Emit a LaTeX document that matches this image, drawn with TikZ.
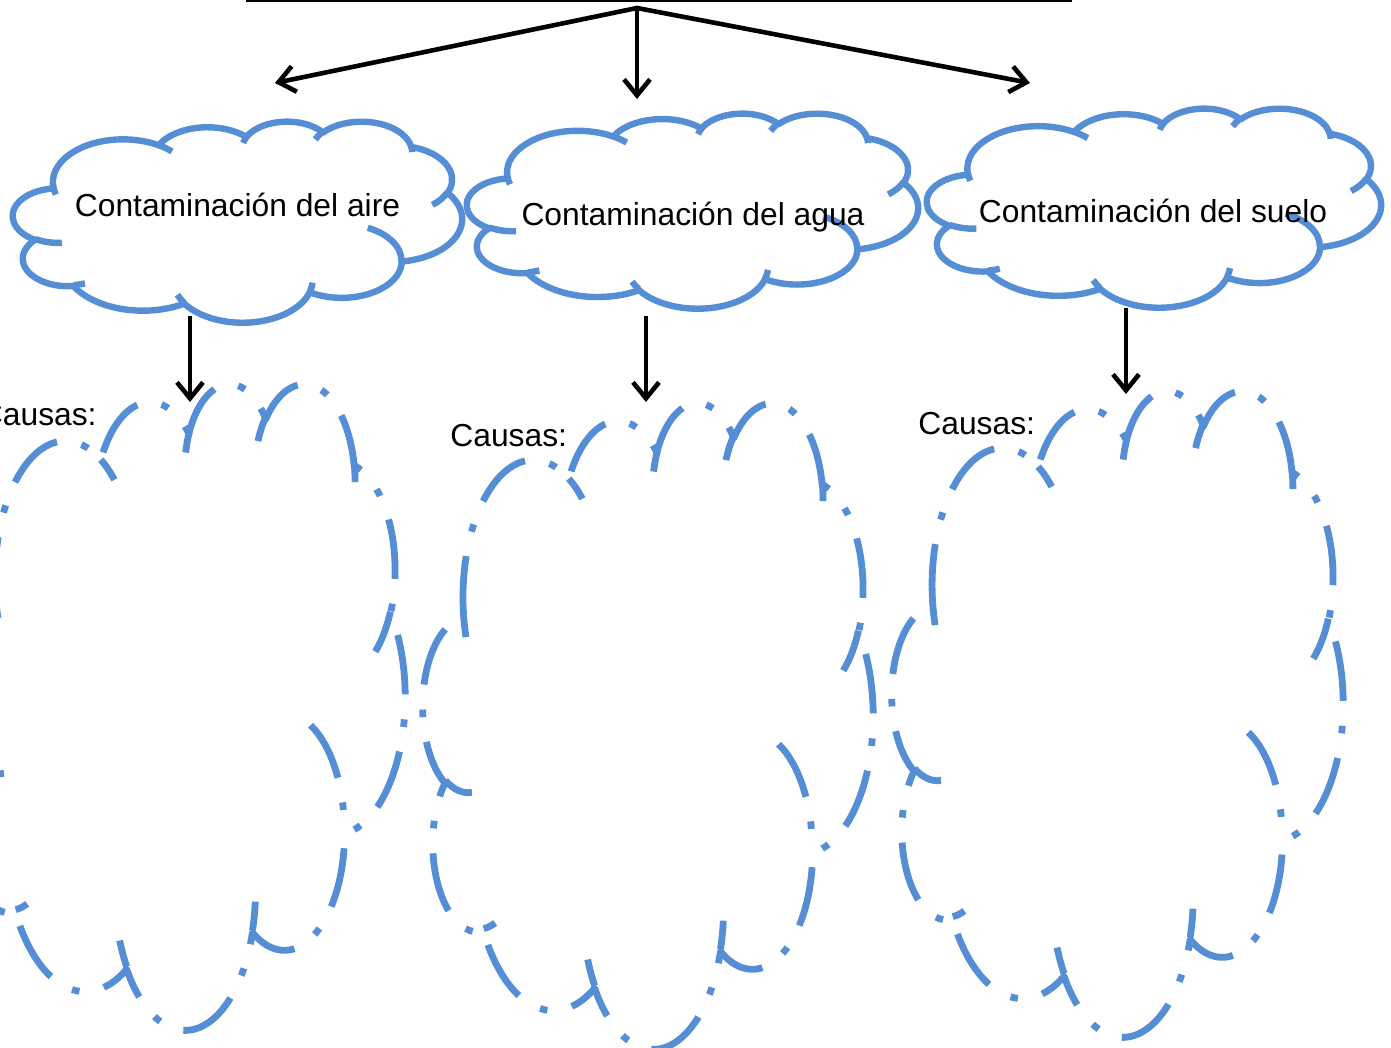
\documentclass[tikz,border=0pt]{standalone}
\usepackage{fontspec}
\setmainfont{Liberation Sans}
\usetikzlibrary{arrows.meta}

\definecolor{cloudblue}{RGB}{85,142,213}
\tikzset{puff/.style={line width=3.2pt, color=cloudblue, line join=round}}
\tikzset{dpuff/.style={puff, line width=3.4pt, dash pattern=on 30pt off 12.5pt on 3.8pt off 12.5pt}}
\tikzset{link/.style={line width=2.3pt, -{Straight Barb[length=8pt, width=13pt]}}}
\tikzset{txt/.style={font=\fontsize{15.9}{19}\selectfont, inner sep=0pt}}

% one lobe: x radius, y radius, start and sweep as direction angles
\newcommand{\lobe}[4]{arc[start angle={pa(#3,#1,#2)}, delta angle={mod(pa(#3+#4,#1,#2)-pa(#3,#1,#2)+720,360)}, x radius=#1, y radius=#2]}

% cloud in a box: style, left, top, width, height
\newcommand{\cloudpath}[5]{%
  \begin{scope}[shift={(#2,#3)}, xscale=#4/432, yscale=#5/432]
    \draw[#1] (39.00,143.70) \lobe{67.53}{91.90}{-190.48748}{123.78053}
      \lobe{53.33}{72.67}{-144.10238}{89.94523}
      \lobe{43.65}{59.45}{-145.80792}{99.72302}
      \lobe{48.57}{65.95}{-130.98607}{117.24173}
      \lobe{53.33}{72.73}{-78.70888}{109.02692}
      \lobe{67.75}{92.20}{-46.26725}{130.269}
      \lobe{57.85}{78.67}{0.62502}{114.03333}
      \lobe{67.52}{92.15}{22.4516}{115.17255}
      \lobe{77.20}{105.43}{66.24263}{75.71102}
      \lobe{43.60}{59.18}{-274.94208}{146.73557}
      \lobe{43.45}{59.45}{-246.8285}{152.51885} -- cycle;
    \draw[#1] (46.93,261.77) \lobe{43.45}{59.45}{86.742}{26.4295}
      (69.28,348.99) \lobe{43.60}{59.18}{73.61047}{11.44747}
      (164.78,390.90) \lobe{67.52}{92.15}{137.62415}{14.0811}
      (288.27,347.51) \lobe{67.52}{92.15}{6.45327}{15.99835}
      (341.29,229.54) \lobe{57.85}{78.67}{-70.29235}{70.91737}
      (417.98,153.54) \lobe{53.33}{72.73}{30.31803}{27.7515}
      (383.24,54.26) \lobe{48.57}{65.95}{-13.74433}{14.8589}
      (290.78,39.52) \lobe{48.57}{65.95}{-149.18145}{18.19537}
      (221.41,47.20) \lobe{43.65}{59.45}{-163.49427}{17.68635}
      (140.00,51.92) \lobe{67.53}{91.90}{-66.70695}{12.31935}
      (41.27,157.89) \lobe{67.53}{91.90}{157.65435}{11.85817};
  \end{scope}}

\begin{document}
\begin{tikzpicture}[x=0.5pt, y=-0.5pt,
    declare function={pa(\a,\w,\h)=atan2(\w*sin(\a),\h*cos(\a));}]
    \useasboundingbox (0,0) rectangle (1391,1048);

    \cloudpath{puff}{13}{121}{449}{201}
    \cloudpath{puff}{467}{113}{451}{195}
    \cloudpath{puff}{927}{108}{454}{199}

    \cloudpath{dpuff}{-45}{382}{450}{646}
    \cloudpath{dpuff}{423}{401}{450}{646}
    \cloudpath{dpuff}{892}{389}{451}{646}

    \node[txt, anchor=base] (aire) at (237.5,217) {Contaminación del aire};
    \node[txt, anchor=base] (agua) at (693,226) {Contaminación del agua};
    \node[txt, anchor=base] (suelo) at (1153,223) {Contaminación del suelo};

    \node[txt, anchor=base east] (causasA) at (97,425) {Causas:};
    \node[txt, anchor=base west] (causasB) at (450,446) {Causas:};
    \node[txt, anchor=base west] (causasC) at (918,434) {Causas:};

    \coordinate (barL) at (246,1);
    \coordinate (barR) at (1072,1);
    \coordinate (hub) at (637,8);
    \coordinate (toAire) at (275,83);
    \coordinate (toAgua) at (637,99);
    \coordinate (toSuelo) at (1030,83);

    \draw [line width=1.2pt] (barL) -- (barR);
    \draw [link, {Straight Barb[length=8pt, width=13pt]}-{Straight Barb[length=8pt, width=13pt]}] (toAire) -- (hub) -- (toSuelo);
    \draw [link] (hub) -- (toAgua);

    \coordinate (aireOut) at (190,316);
    \coordinate (aireIn) at (190,402);
    \coordinate (aguaOut) at (646,316);
    \coordinate (aguaIn) at (646,402);
    \coordinate (sueloOut) at (1126,308);
    \coordinate (sueloIn) at (1126,394);

    \draw [link] (aireOut) -- (aireIn);
    \draw [link] (aguaOut) -- (aguaIn);
    \draw [link] (sueloOut) -- (sueloIn);

\end{tikzpicture}
\end{document}
